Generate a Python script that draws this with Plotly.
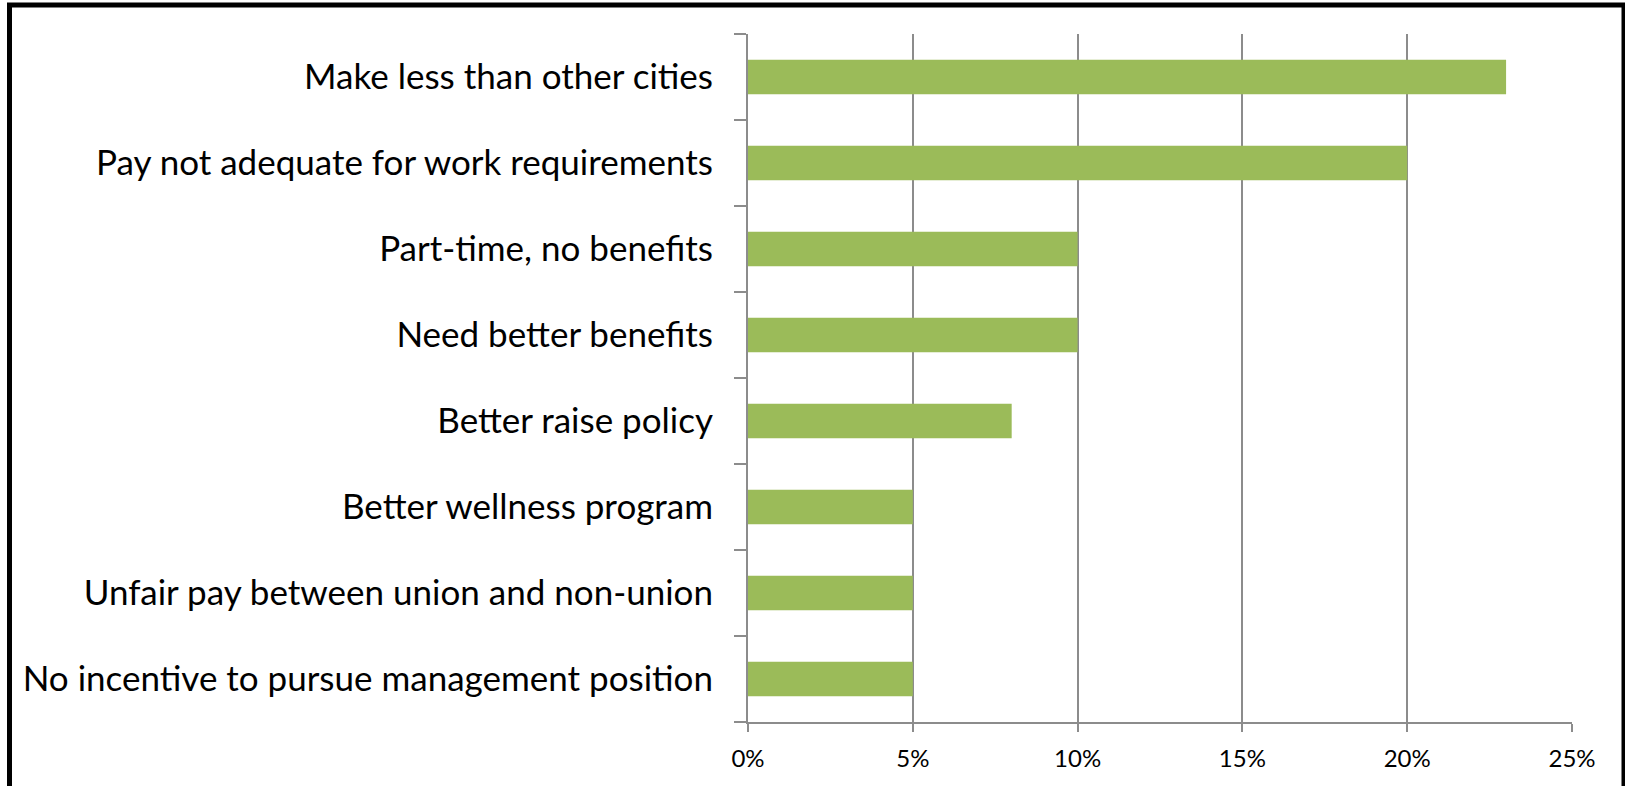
import plotly.graph_objects as go

categories = [
    "Make less than other cities",
    "Pay not adequate for work requirements",
    "Part-time, no benefits",
    "Need better benefits",
    "Better raise policy",
    "Better wellness program",
    "Unfair pay between union and non-union",
    "No incentive to pursue management position",
]
values = [0.23, 0.20, 0.10, 0.10, 0.08, 0.05, 0.05, 0.05]
x_tickvals = [0, 0.05, 0.10, 0.15, 0.20, 0.25]
x_ticktext = ["0%", "5%", "10%", "15%", "20%", "25%"]

W, H = 1625, 786
ML, MR, MT, MB = 748, 53, 34, 64

fig = go.Figure(go.Bar(
    x=values, y=categories, orientation="h",
    marker=dict(color="#9BBB59", line=dict(width=0)),
    hoverinfo="skip",
))

fig.update_layout(
    width=W, height=H,
    margin=dict(l=ML, r=MR, t=MT, b=MB, pad=0),
    paper_bgcolor="white", plot_bgcolor="white",
    bargap=0.6,
    showlegend=False,
    font=dict(family="Lato, 'Open Sans', sans-serif", color="black"),
)

fig.update_xaxes(
    range=[0, 0.25], tickvals=x_tickvals, ticktext=x_ticktext,
    showgrid=True, gridcolor="#8c8c8c", gridwidth=1.5,
    showline=True, linecolor="#8c8c8c", linewidth=2,
    ticks="outside", ticklen=8, tickcolor="#8c8c8c", tickwidth=1.5,
    tickfont=dict(size=24, color="black"),
    ticklabelstandoff=6,
    zeroline=False, fixedrange=True,
)
fig.update_yaxes(
    categoryorder="array", categoryarray=categories[::-1],
    tickson="boundaries",
    showline=True, linecolor="#8c8c8c", linewidth=2,
    ticks="outside", ticklen=12, tickcolor="#8c8c8c", tickwidth=1.5,
    tickfont=dict(size=35, color="black"),
    ticklabelstandoff=26,
    showgrid=False, zeroline=False, fixedrange=True,
)

# outer frame (figure-pixel positions converted to paper coords)
pw, ph = W - ML - MR, H - MT - MB
def px(x):
    return (x - ML) / pw
def py(y):
    return 1 - (y - MT) / ph
fig.add_shape(type="rect", xref="paper", yref="paper",
              x0=px(9.5), x1=px(1624), y0=py(5), y1=py(792),
              line=dict(color="black", width=5), fillcolor="rgba(0,0,0,0)",
              layer="above")

fig.write_html("out.html", config={"displayModeBar": False},
               post_script="document.body.style.margin='0';document.body.style.overflow='hidden';")
